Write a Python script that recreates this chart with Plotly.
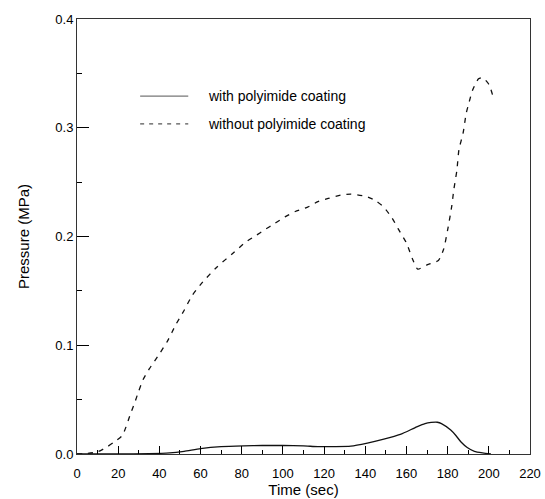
import plotly.graph_objects as go

# ---- data ----
time_without = [0, 5, 10, 15, 18, 22, 26, 28, 30, 32, 35, 40, 44, 48, 52, 56, 61, 68, 76, 82,
                87, 91, 96, 101, 106, 112, 117, 122, 128, 133, 140, 145, 149, 153, 156, 160,
                163, 165.5, 170, 175.5, 178, 180, 182, 183, 184.5, 185.5, 187.5, 189, 190.5,
                192, 195, 197, 200, 202]
p_without = [0.0, 0.0005, 0.002, 0.007, 0.011, 0.017, 0.037, 0.047, 0.058, 0.068, 0.078, 0.092,
             0.104, 0.119, 0.132, 0.146, 0.158, 0.172, 0.185, 0.195, 0.201, 0.206, 0.212, 0.218,
             0.223, 0.227, 0.232, 0.235, 0.238, 0.239, 0.237, 0.233, 0.227, 0.217, 0.207, 0.194,
             0.179, 0.170, 0.174, 0.178, 0.188, 0.206, 0.228, 0.243, 0.261, 0.280, 0.295, 0.313,
             0.324, 0.334, 0.345, 0.346, 0.340, 0.329]

time_with = [0, 20, 35, 45, 52, 60, 70, 81, 90, 100, 110, 117, 125, 133, 141, 149, 157, 165,
             169, 172, 175, 177, 181.5, 184, 186.5, 189.5, 193, 197, 201]
p_with = [0, 0, 0.0003, 0.001, 0.0025, 0.005, 0.0068, 0.0075, 0.0078, 0.0078, 0.0074, 0.0068,
          0.0068, 0.0072, 0.010, 0.0136, 0.018, 0.025, 0.028, 0.029, 0.0292, 0.028, 0.022,
          0.017, 0.011, 0.006, 0.0025, 0.001, 0.0]

series_names = ["with polyimide coating", "without polyimide coating"]

FONT = "Liberation Sans, Arial, sans-serif"

fig = go.Figure()
fig.add_trace(go.Scatter(x=time_with, y=p_with, mode="lines", name=series_names[0],
                         line=dict(color="#111111", width=1.3, shape="spline", smoothing=0.6),
                         showlegend=False))
fig.add_trace(go.Scatter(x=time_without, y=p_without, mode="lines", name=series_names[1],
                         line=dict(color="#111111", width=1.3, dash="5px,6px",
                                   shape="spline", smoothing=0.6),
                         showlegend=False))

# manual legend (sample lines + labels) to match reference spacing
legend_rows = [0.8227, 0.759]
legend_styles = [dict(color="#777777", width=1.2, dash="solid"),
                 dict(color="#555555", width=1.2, dash="4px,5px")]
for yy, name, st in zip(legend_rows, series_names, legend_styles):
    fig.add_shape(type="line", xref="paper", yref="paper", x0=0.1394, x1=0.2456, y0=yy, y1=yy,
                  line=st)
    fig.add_annotation(xref="paper", yref="paper", x=0.2854, y=yy, text=name, showarrow=False,
                       xanchor="left", yanchor="middle", font=dict(family=FONT, size=14, color="#000"))

fig.update_layout(
    width=545, height=499,
    margin=dict(l=77, r=15, t=14, b=45),
    plot_bgcolor="white", paper_bgcolor="white",
    font=dict(family=FONT, size=13, color="#000"),
    showlegend=False,
)
fig.update_xaxes(
    range=[0, 220], tickmode="linear", tick0=0, dtick=20, ticks="inside", ticklen=8,
    tickwidth=1.2, tickcolor="black",
    minor=dict(ticks="inside", ticklen=4, dtick=10, tickwidth=1, tickcolor="black"),
    showline=True, linecolor="#333", linewidth=1, mirror=True, showgrid=False, zeroline=False,
    tickfont=dict(size=13), ticklabelstandoff=7, automargin=False,
    title=dict(text="Time (sec)", font=dict(size=15), standoff=0),
)
fig.update_yaxes(
    range=[0, 0.4], tickmode="linear", tick0=0, dtick=0.1, tickformat=".1f",
    ticks="inside", ticklen=12, tickwidth=1.2, tickcolor="black",
    minor=dict(ticks="inside", ticklen=5, dtick=0.05, tickwidth=1, tickcolor="black"),
    showline=True, linecolor="#333", linewidth=1, mirror=True, showgrid=False, zeroline=False,
    tickfont=dict(size=13), ticklabelstandoff=0,
    title=dict(text="Pressure (MPa)", font=dict(size=15), standoff=22),
)

fig.write_html("out.html")
